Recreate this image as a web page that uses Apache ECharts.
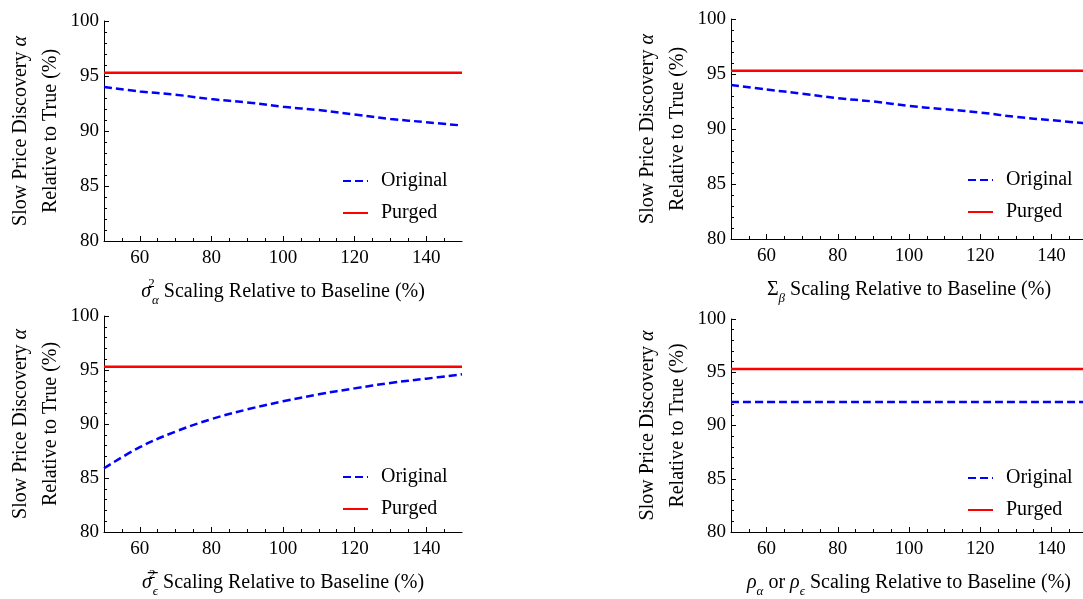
<!DOCTYPE html>
<html>
<head>
<meta charset="utf-8">
<script src="https://cdn.jsdelivr.net/npm/echarts@6/dist/echarts.min.js"></script>
<style>
  html, body { margin: 0; padding: 0; background: #fff; overflow: hidden; }
  #chart { width: 1090px; height: 599px; }
</style>
</head>
<body>
<div id="chart"></div>
<script>
// x values (scaling relative to baseline, %)
const xs = [50, 60, 70, 80, 90, 100, 110, 120, 130, 140, 150];
const xMajorTicks = [60, 80, 100, 120, 140];
const xMinorTicks = [55, 65, 70, 75, 85, 90, 95, 105, 110, 115, 125, 130, 135, 145];

// panel 1: sigma_alpha^2
const sigmaAlphaOriginal = [94.0, 93.6, 93.3, 92.9, 92.6, 92.2, 91.9, 91.5, 91.1, 90.8, 90.5];
const sigmaAlphaPurged = [95.3, 95.3, 95.3, 95.3, 95.3, 95.3, 95.3, 95.3, 95.3, 95.3, 95.3];
// panel 2: Sigma_beta
const sigmaBetaOriginal = [94.0, 93.6, 93.2, 92.8, 92.5, 92.1, 91.8, 91.5, 91.1, 90.8, 90.5];
const sigmaBetaPurged = [95.3, 95.3, 95.3, 95.3, 95.3, 95.3, 95.3, 95.3, 95.3, 95.3, 95.3];
// panel 3: sigma_eps^2
const sigmaEpsOriginal = [85.9, 87.85, 89.3, 90.45, 91.35, 92.1, 92.75, 93.3, 93.8, 94.2, 94.6];
const sigmaEpsPurged = [95.3, 95.3, 95.3, 95.3, 95.3, 95.3, 95.3, 95.3, 95.3, 95.3, 95.3];
// panel 4: rho_alpha or rho_eps
const rhoOriginal = [92.2, 92.2, 92.2, 92.2, 92.2, 92.2, 92.2, 92.2, 92.2, 92.2, 92.2];
const rhoPurged = [95.3, 95.3, 95.3, 95.3, 95.3, 95.3, 95.3, 95.3, 95.3, 95.3, 95.3];

const seriesNames = ['Original', 'Purged'];
const yMin = 80, yMax = 100, yStep = 5;

const FONT = "'Times New Roman', 'Liberation Serif', 'DejaVu Serif', serif";

const richBase = {
	t: { fontFamily: FONT, fontSize: 20, color: '#000', lineHeight: 30 },
	i: { fontFamily: FONT, fontSize: 20, color: '#000', fontStyle: 'italic', lineHeight: 30 },
	sup: { fontFamily: FONT, fontSize: 13, color: '#000', width: 1, verticalAlign: 'top', lineHeight: 30, padding: [0, 0, 12, 0] },
	sub: { fontFamily: FONT, fontSize: 13, color: '#000', fontStyle: 'italic', verticalAlign: 'bottom', lineHeight: 30, padding: [10, 0, 0, 0] }
};

const panels = [
	{ grid: { left: 104, top: 21, width: 358, height: 220 }, legend: { left: 337, top: 166 },
		xName: '{i|σ}{sup|2}{sub|α}{t| Scaling Relative to Baseline (%)}',
		original: sigmaAlphaOriginal, purged: sigmaAlphaPurged },
	{ grid: { left: 731, top: 19, width: 356, height: 220 }, legend: { left: 962, top: 165 },
		xName: '{t|Σ}{sub|β}{t| Scaling Relative to Baseline (%)}',
		original: sigmaBetaOriginal, purged: sigmaBetaPurged },
	{ grid: { left: 104, top: 316, width: 358, height: 221 }, legend: { left: 337, top: 462 },
		xName: '{i|σ\u0305}{sup|2}{sub|ϵ}{t| Scaling Relative to Baseline (%)}',
		original: sigmaEpsOriginal, purged: sigmaEpsPurged },
	{ grid: { left: 731, top: 319, width: 356, height: 220 }, legend: { left: 962, top: 463 },
		xName: '{i|ρ}{sub|α}{t| or }{i|ρ}{sub|ϵ}{t| Scaling Relative to Baseline (%)}',
		original: rhoOriginal, purged: rhoPurged }
];

let grids = [], xAxes = [], yAxes = [], series = [], legends = [];

panels.forEach(function (p, k) {
	grids.push(p.grid);
	// main x axis: line, labels, major ticks
	xAxes.push({
		type: 'value', gridIndex: k, min: 50, max: 150,
		name: p.xName, nameLocation: 'middle', nameGap: 36,
		nameTextStyle: { fontFamily: FONT, rich: richBase },
		axisLine: { lineStyle: { color: '#000', width: 1 } },
		axisTick: { inside: true, length: 5, customValues: xMajorTicks, lineStyle: { color: '#000' } },
		axisLabel: { customValues: xMajorTicks, margin: 8, fontFamily: FONT, fontSize: 19, color: '#000' },
		splitLine: { show: false }
	});
	// overlay x axis for the minor ticks
	xAxes.push({
		type: 'value', gridIndex: k, min: 50, max: 150, position: 'bottom',
		axisLine: { show: false },
		axisTick: { inside: true, length: 3, customValues: xMinorTicks, lineStyle: { color: '#000' } },
		axisLabel: { show: false },
		splitLine: { show: false }
	});
	yAxes.push({
		type: 'value', gridIndex: k, min: yMin, max: yMax, interval: yStep,
		name: '{t|Slow Price Discovery }{i|α}\n{t|Relative to True (%)}',
		nameLocation: 'middle', nameRotate: 90, nameGap: 38,
		nameTextStyle: { fontFamily: FONT, rich: richBase, lineHeight: 30 },
		axisLine: { show: true, lineStyle: { color: '#000', width: 1 } },
		axisTick: { show: true, inside: true, length: 5, lineStyle: { color: '#000' } },
		minorTick: { show: true, splitNumber: 5, length: 3, lineStyle: { color: '#000' } },
		axisLabel: { margin: 5, fontFamily: FONT, fontSize: 19, color: '#000' },
		splitLine: { show: false }
	});
	series.push({
		name: seriesNames[0], type: 'line', xAxisIndex: 2 * k, yAxisIndex: k,
		data: xs.map(function (x, j) { return [x, p.original[j]]; }),
		symbol: 'none', smooth: 0.4,
		lineStyle: { color: '#0000ff', width: 2.5, type: [8, 4] },
		itemStyle: { color: '#0000ff' }
	});
	series.push({
		name: seriesNames[1], type: 'line', xAxisIndex: 2 * k, yAxisIndex: k,
		data: xs.map(function (x, j) { return [x, p.purged[j]]; }),
		symbol: 'none',
		lineStyle: { color: '#ff0000', width: 2.5 },
		itemStyle: { color: '#ff0000' }
	});
	legends.push({
		data: seriesNames, orient: 'vertical', left: p.legend.left, top: p.legend.top,
		itemWidth: 25, itemHeight: 14, itemGap: 12,
		itemStyle: { opacity: 0 },
		textStyle: { fontFamily: FONT, fontSize: 20, color: '#000', lineHeight: 20, padding: [0, 0, 0, 8] }
	});
});

let mychart = echarts.init(document.getElementById('chart'));
let option = {
	animation: false,
	textStyle: { fontFamily: FONT },
	grid: grids,
	xAxis: xAxes,
	yAxis: yAxes,
	legend: legends,
	series: series
};
mychart.setOption(option);
</script>
</body>
</html>
